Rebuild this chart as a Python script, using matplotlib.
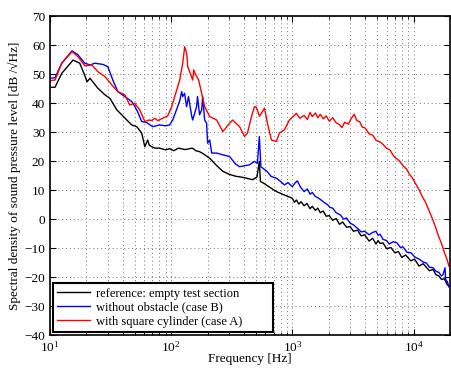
import numpy as np
import matplotlib
matplotlib.use('Agg')
import matplotlib.pyplot as plt
from matplotlib.ticker import LogLocator, NullFormatter

plt.rcParams['font.family'] = ['Liberation Serif', 'DejaVu Serif']
plt.rcParams['mathtext.fontset'] = 'custom'
plt.rcParams['mathtext.rm'] = 'Liberation Serif'
plt.rcParams['font.size'] = 9.5

# reference: empty test section
f_ref = [10, 11, 12.5, 15.5, 17.6, 19.4, 20.2, 21.4, 24.8, 28.4, 31.2, 35.6, 39.1, 43, 47.3,
         52, 57.1, 60.6, 64, 66, 69.1, 73.3, 80, 90, 97, 105, 115, 130, 150, 160, 171, 185,
         208, 237, 267, 300, 340, 380, 430, 470, 510, 534, 545, 580, 650, 740, 850,
         1000, 1040, 1080, 1130, 1180, 1250, 1320, 1400, 1460, 1550, 1620, 1700, 1800, 1900,
         2020, 2150, 2300, 2450, 2600, 2800, 3000, 3200, 3450, 3700, 3950, 4300, 4600, 4900,
         5100, 5300, 5600, 6000, 6500, 7000, 7500, 8000, 8600, 9500, 10200, 11100, 12000,
         13500, 14500, 15300, 16200, 17000, 18000, 18800, 19600]
db_ref = [45.5, 45.5, 50.3, 54.9, 53.8, 49.5, 47.4, 48.6, 45.2, 42.9, 41.7, 37.7, 36.0, 34.2, 32.5,
          31.9, 29.7, 25.0, 27.3, 25.5, 25.0, 24.5, 24.5, 23.9, 24.3, 23.6, 24.5, 24.0, 24.5, 23.6, 23.3, 22.5,
          21.0, 18.5, 16.5, 15.5, 14.8, 14.5, 14.0, 13.6, 14.5, 19.9, 13.0, 12.4, 11.0, 9.5, 8.4,
          7.2, 5.8, 6.6, 5.2, 6.0, 4.6, 5.4, 3.6, 4.4, 3.0, 3.8, 2.2, 2.8, 1.0,
          1.2, -0.4, 0.2, -1.8, -1.0, -2.8, -2.6, -4.2, -3.8, -5.8, -5.4, -7.6, -6.6, -8.6,
          -7.4, -8.4, -8.2, -10.2, -9.8, -11.6, -11.2, -13.2, -12.4, -14.4, -13.8, -16.2, -15.4,
          -17.8, -17.4, -19.2, -19.6, -20.8, -20.6, -22.4, -23.2]

# without obstacle (case B)
f_b = [10, 11, 12.5, 15.2, 17, 19.4, 21.4, 23.4, 27.3, 30, 33, 36.3, 41.4, 47.3, 52, 57.1,
       62.9, 70.4, 80, 90, 97, 103, 113, 118, 122, 124.5, 129, 134, 139, 148, 150.5, 162, 165,
       171.5, 178.5, 182, 189, 196, 200, 208, 216, 237, 267, 303, 340, 367, 440, 487, 515, 534,
       550, 620, 670, 740, 800, 860, 920, 1000, 1050, 1100, 1170, 1250, 1330, 1400, 1460,
       1550, 1650, 1750, 1850, 1950, 2050, 2150, 2300, 2500, 2650, 2800, 3000, 3200, 3450,
       3700, 3950, 4300, 4600, 4900, 5100, 5300, 5600, 6000, 6300, 6800, 7300, 7800, 8200,
       8800, 9500, 10200, 11100, 12000, 12800, 13500, 14500, 15300, 16200, 17000, 17500,
       18200, 18400, 19000, 19600]
db_b = [48.6, 48.8, 53.8, 58.1, 56.7, 53.8, 53.2, 53.8, 53.4, 52.6, 48.0, 44.0, 42.3, 40.6, 37.7, 33.7,
        33.3, 31.9, 32.5, 32.2, 32.5, 34.2, 38.8, 41.0, 44.0, 42.3, 43.4, 38.8, 42.3, 35.4, 34.2, 38.8, 42.3,
        36.0, 37.7, 42.3, 34.2, 33.1, 26.2, 27.3, 22.8, 22.8, 22.2, 21.6, 19.0, 18.1, 18.7, 19.9, 19.3, 28.5,
        18.1, 16.4, 14.7, 14.1, 13.0, 11.8, 12.6, 11.2, 12.4, 13.2, 11.0, 9.5, 10.4, 8.6, 9.2,
        7.8, 7.2, 6.4, 5.6, 5.0, 4.0, 3.8, 2.2, 1.4, 0.0, 0.4, -1.4, -2.0, -3.2,
        -4.4, -4.2, -5.4, -4.6, -4.2, -5.6, -5.2, -7.0, -7.4, -8.6, -7.8, -8.2, -9.8, -9.6,
        -11.4, -11.6, -13.0, -13.8, -14.8, -15.2, -16.6, -16.8, -18.0, -18.4, -19.6, -19.2,
        -16.8, -20.8, -21.6, -23.4]

# with square cylinder (case A)
f_a = [10, 11, 12.5, 15.2, 17, 19.4, 22.2, 24.8, 28.4, 32.4, 36.3, 41.4, 45.5, 50, 55, 60.6,
       66, 69.1, 73.3, 77.5, 85, 93.5, 101, 107, 117.6, 124.5, 129.3, 134.3, 137, 142, 150.5,
       153.4, 159.3, 168.6, 178.5, 189, 208, 237.6, 266.7, 303.5, 321, 367, 403, 426, 460, 487,
       506, 535, 556, 589, 623, 672, 738, 782, 860, 945, 1080, 1150, 1250, 1330, 1400, 1460,
       1550, 1620, 1700, 1800, 1900, 2020, 2150, 2300, 2450, 2570, 2700, 2900, 3050, 3240,
       3400, 3600, 3770, 4000, 4300, 4600, 4910, 5300, 5600, 5940, 6400, 6900, 7600, 8200,
       8800, 9200, 9800, 10400, 11100, 11800, 12500, 13400, 14300, 15200, 16200, 17000,
       18000, 18800, 19600]
db_a = [47.8, 48.0, 53.8, 57.8, 56.1, 52.9, 53.2, 50.9, 49.2, 46.3, 44.0, 42.9, 39.4, 40.0, 37.7, 33.7,
        34.2, 34.0, 34.8, 34.0, 34.8, 35.6, 38.8, 42.3, 48.0, 53.8, 59.5, 57.2, 52.6, 50.9, 48.0,
        51.5, 49.8, 48.0, 43.4, 38.8, 35.4, 34.2, 30.2, 33.1, 34.2, 31.9, 28.5, 29.7, 35.4, 38.8,
        38.5, 35.5, 36.5, 38.3, 33.1, 27.3, 26.8, 29.7, 30.8, 34.2, 36.5, 34.8, 35.8, 34.4, 36.8, 35.4,
        36.6, 35.0, 36.2, 34.6, 35.6, 33.8, 35.0, 33.2, 32.6, 31.6, 33.4, 32.8, 34.6, 36.2,
        34.0, 33.6, 31.8, 31.4, 29.4, 29.0, 27.2, 26.6, 25.8, 24.6, 23.8, 21.6, 20.2, 18.4,
        17.2, 15.6, 14.2, 12.2, 10.2, 7.8, 6.0, 3.0, 0.2, -2.8, -6.2, -8.4,
        -11.6, -13.6, -16.2]

fig = plt.figure(figsize=(4.52, 3.70), dpi=100)
ax = fig.add_axes([50/452, 35/370, 400/452, 318.7/370])

ax.semilogx(f_ref, db_ref, color='black', lw=1.0, label='reference: empty test section')
ax.semilogx(f_b, db_b, color='blue', lw=1.0, label='without obstacle (case B)')
ax.semilogx(f_a, db_a, color='red', lw=1.0, label='with square cylinder (case A)')

ax.set_xlim(10, 20000)
ax.set_ylim(-40, 70)
ax.set_yticks(np.arange(-40, 71, 10))
ax.xaxis.set_major_locator(LogLocator(base=10, numticks=10))
ax.xaxis.set_minor_locator(LogLocator(base=10, subs=np.arange(2, 10), numticks=20))
ax.xaxis.set_minor_formatter(NullFormatter())

ax.grid(True, which='major', axis='both', color='0.45', linestyle=(0, (1, 3)), lw=0.7)
ax.grid(True, which='minor', axis='x', color='0.45', linestyle=(0, (1, 3)), lw=0.7)
ax.tick_params(which='both', direction='in', top=True, right=True, labelsize=9.5)
ax.tick_params(which='major', length=4)
ax.tick_params(which='minor', length=2)
for s in ax.spines.values():
    s.set_linewidth(1.2)

ax.set_xlabel('Frequency [Hz]', fontsize=9.5, labelpad=-1)
ax.set_ylabel('Spectral density of sound pressure level [dB /\u221aHz]', fontsize=9.5, labelpad=2)

leg = ax.legend(loc='lower left', bbox_to_anchor=(0.0075, 0.0094, 0.55, 0.15), mode='expand',
                fancybox=False, edgecolor='black', framealpha=1, borderaxespad=0,
                handlelength=2.6, handletextpad=0.5, labelspacing=0.16,
                borderpad=0.35, fontsize=9)
leg.get_frame().set_linewidth(1.5)

fig.savefig('out.png', dpi=100)
